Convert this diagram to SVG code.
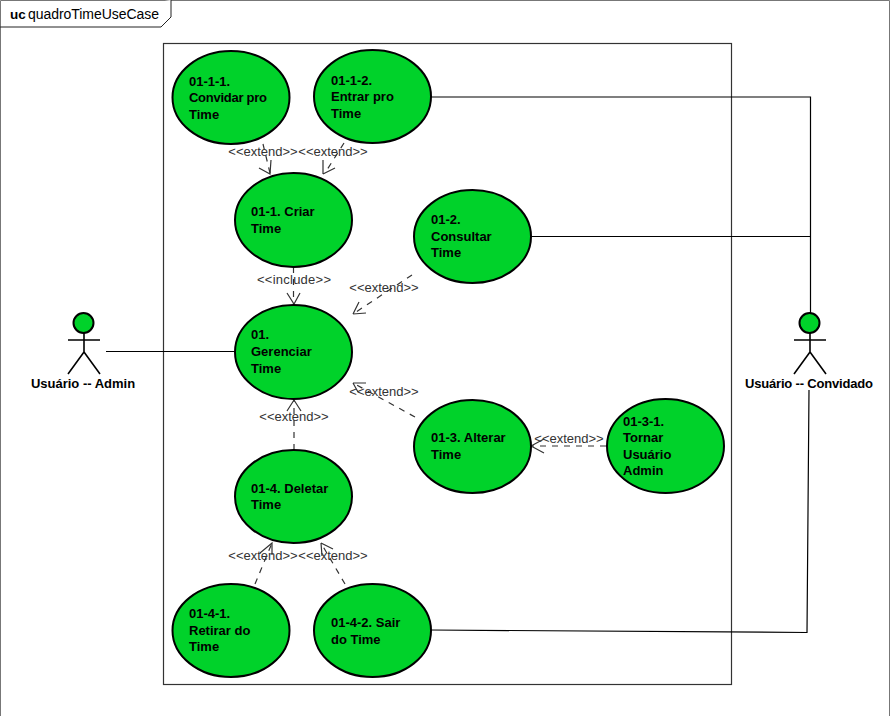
<svg xmlns="http://www.w3.org/2000/svg" width="890" height="716" viewBox="0 0 890 716">
<style>
text{font-family:"Liberation Sans",Arial,sans-serif;font-size:13px}
.n text,.a text{font-weight:bold;fill:#000}
.n ellipse{fill:#00d22a;stroke:#000;stroke-width:2}
.a circle{fill:#00d22a;stroke:#000;stroke-width:2}
.a path{fill:none;stroke:#000;stroke-width:1.6}
.s{fill:none;stroke:#000;stroke-width:1.2}
.d{fill:none;stroke:#333;stroke-width:1.2;stroke-dasharray:6 6}
.h{fill:none;stroke:#333;stroke-width:1.2}
.l{fill:#333;text-anchor:middle}
</style>
<rect width="890" height="716" fill="#fff"/>
<g id="frame">
<path d="M.5 716V.5H889.5V716" fill="none" stroke="#777" stroke-width="1"/>
<path d="M0 27H161L171 17V0" fill="#fff" stroke="#222" stroke-width="1"/>
<text x="10" y="19" style="font-size:13.500px" font-weight="bold">uc</text>
<text x="28" y="19" style="font-size:14px" textLength="131">quadroTimeUseCase</text>
</g>
<rect id="boundary" x="163.500" y="43.500" width="568" height="641" fill="#fff" stroke="#333" stroke-width="1.200"/>
<g id="connectors">
<path class="s" d="M431 97H810.500V313M532 236.500H810.500M106 351.500H235M809 390L807 632.500L431 630"/>
<path class="d" d="M263 144L270 173M344 143L325 173M293.500 267V304M412 275L353 314M415 417L353 383M606 446H532M294 450V400M255 584L272 543M345 584L321 543"/>
<path class="h" d="M259 168L270 174L271 160M323 174L335 168M323 174L323 160M287 293L294 304L300 293M353 314L359 302M353 314L366 313M353 383L366 383M353 383L358 392M531 446L544 439M531 446L544 453M287 411L294 400L301 411M260 553L272 543L272 555M321 543L333 549M321 543L322 556"/>
<text class="l" x="263" y="156">&lt;&lt;extend&gt;&gt;</text>
<text class="l" x="333" y="156">&lt;&lt;extend&gt;&gt;</text>
<text class="l" x="294" y="284" textLength="74">&lt;&lt;include&gt;&gt;</text>
<text class="l" x="384" y="292">&lt;&lt;extend&gt;&gt;</text>
<text class="l" x="384" y="396">&lt;&lt;extend&gt;&gt;</text>
<text class="l" x="294" y="421">&lt;&lt;extend&gt;&gt;</text>
<text class="l" x="569" y="443">&lt;&lt;extend&gt;&gt;</text>
<text class="l" x="263" y="560">&lt;&lt;extend&gt;&gt;</text>
<text class="l" x="333" y="560">&lt;&lt;extend&gt;&gt;</text>
</g>
<g id="uc-01-1-1" class="n"><ellipse cx="231" cy="97.500" rx="58.500" ry="46.500"/><text x="189" y="86">01-1-1.</text><text x="189" y="102" textLength="78">Convidar pro</text><text x="189" y="119">Time</text></g>
<g id="uc-01-1-2" class="n"><ellipse cx="372.500" cy="96.500" rx="58.500" ry="46.500"/><text x="331" y="85">01-1-2.</text><text x="331" y="101">Entrar pro</text><text x="331" y="118">Time</text></g>
<g id="uc-01-1" class="n"><ellipse cx="293.500" cy="220" rx="58.500" ry="47"/><text x="251" y="216">01-1. Criar</text><text x="251" y="233">Time</text></g>
<g id="uc-01-2" class="n"><ellipse cx="472.500" cy="236.500" rx="58.500" ry="46.500"/><text x="431" y="224">01-2.</text><text x="431" y="241">Consultar</text><text x="431" y="257">Time</text></g>
<g id="uc-01" class="n"><ellipse cx="293.500" cy="352" rx="58.500" ry="47"/><text x="251" y="339">01.</text><text x="251" y="356">Gerenciar</text><text x="251" y="373">Time</text></g>
<g id="uc-01-3" class="n"><ellipse cx="472.500" cy="446.500" rx="58.500" ry="46.500"/><text x="431" y="442">01-3. Alterar</text><text x="431" y="459">Time</text></g>
<g id="uc-01-3-1" class="n"><ellipse cx="665.500" cy="446" rx="58.500" ry="47"/><text x="623" y="426">01-3-1.</text><text x="623" y="442">Tornar</text><text x="623" y="459">Usuário</text><text x="623" y="475">Admin</text></g>
<g id="uc-01-4" class="n"><ellipse cx="293.500" cy="496.500" rx="58.500" ry="46.500"/><text x="251" y="493">01-4. Deletar</text><text x="251" y="509">Time</text></g>
<g id="uc-01-4-1" class="n"><ellipse cx="231" cy="630.500" rx="58.500" ry="46.500"/><text x="189" y="618">01-4-1.</text><text x="189" y="635">Retirar do</text><text x="189" y="651">Time</text></g>
<g id="uc-01-4-2" class="n"><ellipse cx="372.500" cy="630.500" rx="58.500" ry="46.500"/><text x="331" y="627">01-4-2. Sair</text><text x="331" y="644">do Time</text></g>
<g id="actor-admin" class="a"><circle cx="83.500" cy="323" r="10"/><path d="M68 340H100M84 333V352M84 352L68 374M84 352L100 374"/><text x="83" y="388" text-anchor="middle">Usuário -- Admin</text></g>
<g id="actor-convidado" class="a"><circle cx="809.500" cy="323" r="10"/><path d="M794 340H826M810 333V352M810 352L794 374M810 352L826 374"/><text x="745" y="388" textLength="128">Usuário -- Convidado</text></g>
</svg>
